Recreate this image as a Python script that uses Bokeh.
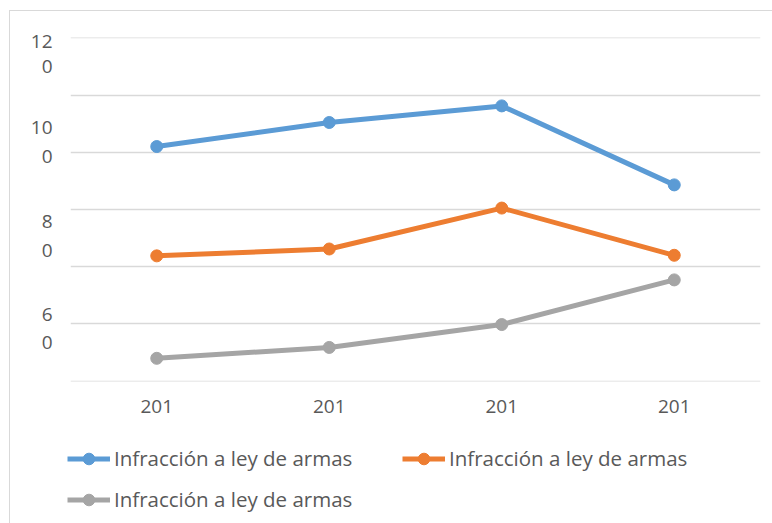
from bokeh.plotting import figure
from bokeh.layouts import column
from bokeh.models import Range1d, FixedTicker, Legend, LegendItem
from bokeh.embed import file_html
from bokeh.resources import INLINE

# ---- data -------------------------------------------------------------
periods = [1, 2, 3, 4]
period_labels = ["201", "201", "201", "201"]
series_names = ["Infracción a ley de armas", "Infracción a ley de armas", "Infracción a ley de armas"]
blue_vals = [101.0, 105.2, 108.1, 94.3]
orange_vals = [81.9, 83.1, 90.25, 82.0]
gray_vals = [64.0, 65.9, 69.9, 77.7]
grid_values = [60, 70, 80, 90, 100, 110, 120]
# wrapped y tick labels, one entry per text line, as drawn in the original
ytick_lines = ["12", "0", "10", "0", "8", "0", "6", "0"]

# ---- where each wrapped label line sits on the value scale (placement) --
ytick_line_pos = [119.35, 115.0, 104.35, 99.25, 87.95, 82.9, 71.7, 66.7]

colors = ["#5B9BD5", "#ED7D31", "#A5A5A5"]
FONT = "Open Sans"
TXT = "#595959"
series = [blue_vals, orange_vals, gray_vals]

# ---- main chart -------------------------------------------------------
p = figure(width=762, height=426, output_backend="svg", toolbar_location=None,
           x_range=Range1d(0.5, 4.5), y_range=Range1d(59.95, 120.05),
           min_border_left=60, min_border_right=12, min_border_top=26,
           min_border_bottom=56, frame_width=690, frame_height=344)
p.outline_line_color = None
p.background_fill_color = "white"
p.border_fill_color = "white"

p.xgrid.grid_line_color = None
p.ygrid.ticker = FixedTicker(ticks=grid_values)
p.ygrid.grid_line_color = "#d9d9d9"
p.ygrid.grid_line_width = 1.5

ya = p.yaxis[0]
ya.ticker = FixedTicker(ticks=ytick_line_pos)
ya.major_label_overrides = {k: v for k, v in zip(ytick_line_pos, ytick_lines)}
ya.axis_line_color = None
ya.major_tick_line_color = None
ya.minor_tick_line_color = None
ya.major_tick_out = 0
ya.major_label_text_font = FONT
ya.major_label_text_font_size = "19px"
ya.major_label_text_color = TXT
ya.major_label_standoff = 18

xa = p.xaxis[0]
xa.ticker = FixedTicker(ticks=periods)
xa.major_label_overrides = {k: v for k, v in zip(periods, period_labels)}
xa.axis_line_color = None
xa.major_tick_line_color = None
xa.minor_tick_line_color = None
xa.major_tick_out = 0
xa.major_label_text_font = FONT
xa.major_label_text_font_size = "19px"
xa.major_label_text_color = TXT
xa.major_label_standoff = 18

for vals, col in zip(series, colors):
    p.line(periods, vals, line_color=col, line_width=5, line_join="round")
    p.scatter(periods, vals, size=12, fill_color=col, line_color=col)

# ---- legend strip (same series, drawn off-range so only the key shows) --
lg = figure(width=762, height=86, output_backend="svg", toolbar_location=None,
            x_range=Range1d(0.5, 4.5), y_range=Range1d(0, 1),
            x_axis_location=None, y_axis_location=None,
            min_border_left=0, min_border_right=0, min_border_top=0,
            min_border_bottom=0, frame_width=762, frame_height=86)
lg.outline_line_color = None
lg.grid.grid_line_color = None
lg.border_fill_color = "white"

items = []
for vals, col, name in zip(series, colors, series_names):
    l = lg.line(periods, vals, line_color=col, line_width=5)
    s = lg.scatter(periods, vals, size=12, fill_color=col, line_color=col)
    items.append(LegendItem(label=name, renderers=[l, s]))

legend = Legend(items=items, orientation="horizontal", ncols=2,
                location=(57, 9.5), padding=0, margin=0, spacing=12,
                glyph_width=43, glyph_height=29, label_standoff=4, label_width=276,
                label_text_font=FONT, label_text_font_size="20.5px", label_text_color=TXT,
                border_line_color=None, background_fill_alpha=0)
lg.add_layout(legend, "center")

layout = column(p, lg, spacing=0,
                styles={"margin-left": "9px", "margin-top": "10px",
                        "border-left": "1px solid #d9d9d9",
                        "border-top": "1px solid #d9d9d9"})

open("out.html", "w").write(file_html(layout, INLINE))
